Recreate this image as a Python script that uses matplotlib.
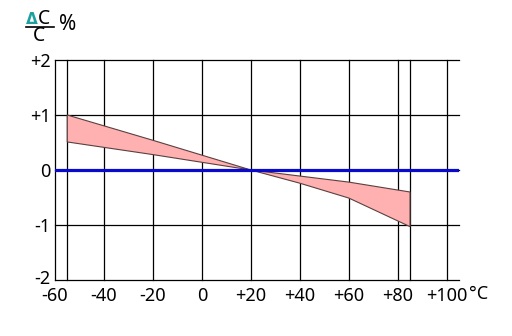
import matplotlib.pyplot as plt
import matplotlib.transforms as mtransforms
from matplotlib.lines import Line2D

plt.rcParams["font.family"] = ["Noto Sans", "DejaVu Sans"]

# temperature coefficient band, dC/C in %
temps = [-55, -20, 0, 20, 40, 60, 85]
upper = [1.0, 0.54, 0.27, 0.0, -0.11, -0.22, -0.40]
lower = [0.51, 0.28, 0.14, 0.0, -0.24, -0.51, -1.03]

x_ticks = [-60, -40, -20, 0, 20, 40, 60, 80, 100]
x_labels = ["-60", "-40", "-20", "0", "+20", "+40", "+60", "+80", "+100"]
x_grid = [-55, -40, -20, 0, 20, 40, 60, 80, 85, 100]
y_ticks = [-2, -1, 0, 1, 2]
y_labels = ["-2", "-1", "0", "+1", "+2"]

fig = plt.figure(figsize=(5.12, 3.36), dpi=100)
ax = fig.add_axes([55 / 512, 56 / 336, 404 / 512, 220 / 336])
ax.set_xlim(-60, 105)
ax.set_ylim(-2, 2)

for x in x_grid:
    ax.plot([x, x], [-2, 2], color="black", lw=0.9, zorder=1, clip_on=False)
for y in y_ticks:
    ax.plot([-60, 105], [y, y], color="black", lw=0.9, zorder=1, clip_on=False)

# band polygon
poly_x = temps + temps[::-1]
poly_y = upper + lower[::-1]
ax.fill(poly_x, poly_y, facecolor="#ffb0b0", edgecolor="#5a4040", lw=0.8, zorder=2)

ax.plot([-60, 105], [0, 0], color="#0a0acc", lw=2.3, zorder=3)

for s in ["top", "right", "bottom"]:
    ax.spines[s].set_visible(False)
ax.spines["left"].set_linewidth(0.9)

ax.set_xticks(x_ticks)
ax.set_xticklabels(x_labels, fontsize=13)
ax.set_yticks(y_ticks)
ax.set_yticklabels(y_labels, fontsize=13)
ax.tick_params(length=0, pad=3)
ax.tick_params(axis="x", pad=5)

# lift the bottom y label a little so it clears the -60 label
lbl = ax.get_yticklabels()[0]
lbl.set_transform(lbl.get_transform() +
                  mtransforms.ScaledTranslation(0, 3 / 100, fig.dpi_scale_trans))

fig.text(469 / 512, 1 - 294 / 336, "°C", fontsize=13, va="center", ha="left")

# dC/C % header
fig.text(26 / 512, 1 - 20 / 336, "Δ", fontsize=11, color="#1fa0a0",
         fontweight="bold", family="DejaVu Sans", va="center", ha="left")
fig.text(38 / 512, 1 - 19 / 336, "C", fontsize=14, va="center", ha="left")
fig.add_artist(Line2D([26 / 512, 54 / 512], [1 - 27 / 336, 1 - 27 / 336],
                      color="black", lw=1.2, transform=fig.transFigure))
fig.text(33 / 512, 1 - 36 / 336, "C", fontsize=14, va="center", ha="left")
fig.text(59 / 512, 1 - 25 / 336, "%", fontsize=15, va="center", ha="left")

plt.savefig("out.png", dpi=100)
